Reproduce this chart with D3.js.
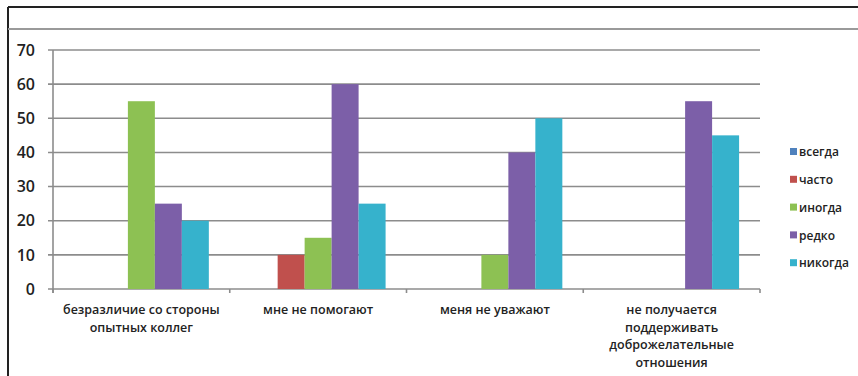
<!DOCTYPE html>
<html>
<head>
<meta charset="utf-8">
<script src="https://cdn.jsdelivr.net/npm/d3@7"></script>
<style>
  html, body { margin: 0; padding: 0; background: #fff; }
  svg { display: block; }
  text { font-family: "Open Sans", "DejaVu Sans", sans-serif; fill: #222; }
</style>
</head>
<body>
<svg id="chart" width="858" height="376"></svg>
<script>
// Survey categories (x axis), multi-line labels
const categories = [
  ["безразличие со стороны", "опытных коллег"],
  ["мне не помогают"],
  ["меня не уважают"],
  ["не получается", "поддерживать", "доброжелательные", "отношения"]
];
// Answer series
const seriesNames = ["всегда", "часто", "иногда", "редко", "никогда"];
const seriesColors = ["#4f81bd", "#c0504d", "#8dc153", "#7c5fa8", "#36b2cc"];
// Values per series, one per category
const vsegda  = [0, 0, 0, 0];
const chasto  = [0, 10, 0, 0];
const inogda  = [55, 15, 10, 0];
const redko   = [25, 60, 40, 55];
const nikogda = [20, 25, 50, 45];
const yTicks = [0, 10, 20, 30, 40, 50, 60, 70];

const series = [vsegda, chasto, inogda, redko, nikogda];

const svg = d3.select("#chart");

// Frame lines
svg.append("line").attr("x1", 8).attr("x2", 858).attr("y1", 7).attr("y2", 7)
  .attr("stroke", "#222").attr("stroke-width", 2);
svg.append("line").attr("x1", 8).attr("x2", 8).attr("y1", 7).attr("y2", 376)
  .attr("stroke", "#222").attr("stroke-width", 2);
svg.append("line").attr("x1", 8).attr("x2", 858).attr("y1", 29).attr("y2", 29)
  .attr("stroke", "#9a9a9a").attr("stroke-width", 2);

const plot = { left: 53, right: 760, top: 50, bottom: 289 };

const x0 = d3.scaleBand()
  .domain(d3.range(categories.length))
  .range([plot.left, plot.right])
  .paddingInner(0)
  .paddingOuter(0);

const x1 = d3.scaleBand()
  .domain(d3.range(seriesNames.length))
  .range([0, x0.bandwidth()])
  .paddingOuter(0.775)
  .paddingInner(0);

const y = d3.scaleLinear().domain([0, 70]).range([plot.bottom, plot.top]);

// Gridlines
const grid = svg.append("g");
grid.selectAll("line").data(yTicks).join("line")
  .attr("x1", plot.left - 5).attr("x2", plot.right)
  .attr("y1", d => y(d)).attr("y2", d => y(d))
  .attr("stroke", "#8c8c8c").attr("stroke-width", 1.6);

// Y axis line
svg.append("line").attr("x1", plot.left).attr("x2", plot.left)
  .attr("y1", plot.top).attr("y2", plot.bottom + 4)
  .attr("stroke", "#8c8c8c").attr("stroke-width", 1.6);

// X category tick marks
svg.append("g").selectAll("line")
  .data(d3.range(categories.length + 1)).join("line")
  .attr("x1", i => plot.left + i * x0.bandwidth())
  .attr("x2", i => plot.left + i * x0.bandwidth())
  .attr("y1", plot.bottom).attr("y2", plot.bottom + 4)
  .attr("stroke", "#8c8c8c").attr("stroke-width", 1.6);

// Y tick labels
svg.append("g").selectAll("text").data(yTicks).join("text")
  .attr("x", 35).attr("y", d => y(d))
  .attr("dy", "0.36em")
  .attr("text-anchor", "end")
  .attr("font-size", 16).attr("font-weight", 600)
  .text(d => d);

// Bars
const groups = svg.append("g").selectAll("g")
  .data(categories.map((c, i) => i)).join("g")
  .attr("transform", i => `translate(${x0(i)},0)`);

groups.selectAll("rect")
  .data(ci => series.map((s, si) => ({ si, v: s[ci] })))
  .join("rect")
  .filter(d => d.v > 0)
  .attr("x", d => x1(d.si))
  .attr("width", x1.bandwidth())
  .attr("y", d => y(d.v))
  .attr("height", d => y(0) - y(d.v))
  .attr("fill", d => seriesColors[d.si]);

// Category labels
const labels = svg.append("g").selectAll("text")
  .data(categories).join("text")
  .attr("x", (c, i) => x0(i) + x0.bandwidth() / 2)
  .attr("y", 314)
  .attr("text-anchor", "middle")
  .attr("font-size", 12.5).attr("font-weight", 600);
labels.selectAll("tspan").data(c => c).join("tspan")
  .attr("x", function () { return this.parentNode.getAttribute("x"); })
  .attr("dy", (d, i) => i === 0 ? 0 : 17.5)
  .text(d => d);

// Legend
const legend = svg.append("g").selectAll("g")
  .data(seriesNames).join("g")
  .attr("transform", (d, i) => `translate(790,${152 + i * 27.8})`);
legend.append("rect")
  .attr("x", 0).attr("y", -4).attr("width", 7).attr("height", 7)
  .attr("fill", (d, i) => seriesColors[i]);
legend.append("text")
  .attr("x", 9).attr("y", 0).attr("dy", "0.35em")
  .attr("font-size", 12).attr("font-weight", 600)
  .text(d => d);
</script>
</body>
</html>
